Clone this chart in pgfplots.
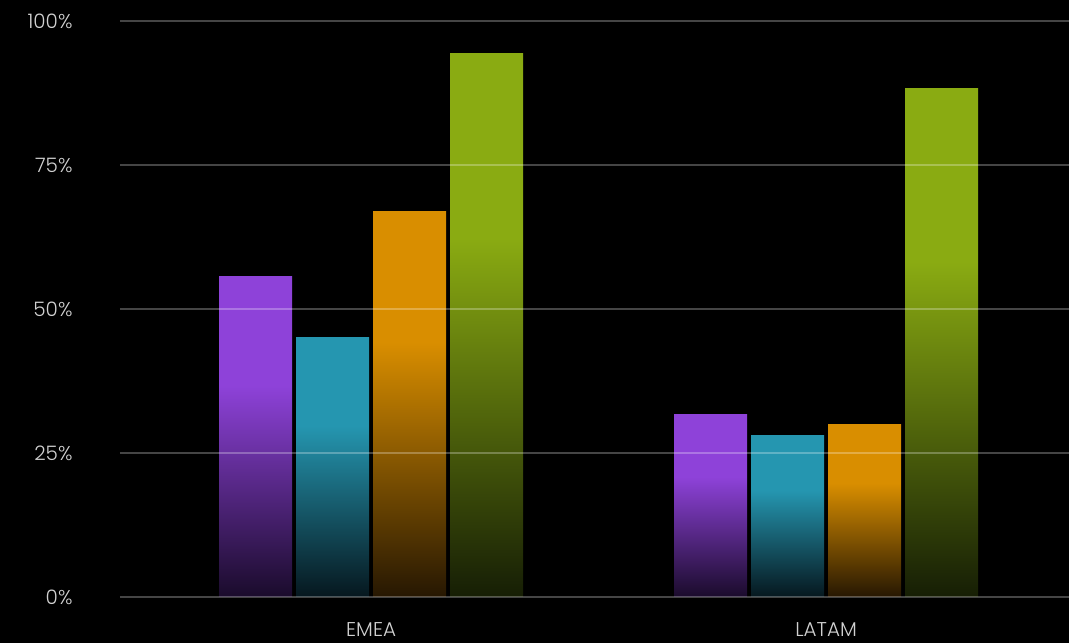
\documentclass[border=0pt]{standalone}
\usepackage{fontspec}
\setmainfont{Poppins}[UprightFont={* Light}]
\usepackage{pgfplots}
\pgfplotsset{compat=1.18}
\definecolor{cpurple}{HTML}{8E42D9}
\definecolor{cteal}{HTML}{2596B0}
\definecolor{corange}{HTML}{D98E00}
\definecolor{cgreen}{HTML}{8AAB12}
\definecolor{dpurple}{HTML}{1A0B2B}
\definecolor{dteal}{HTML}{06171E}
\definecolor{dorange}{HTML}{261702}
\definecolor{dgreen}{HTML}{161E05}
\pgfdeclareverticalshading{shpurple}{100bp}{color(0bp)=(dpurple); color(25bp)=(dpurple); color(58bp)=(cpurple); color(100bp)=(cpurple)}
\pgfdeclareverticalshading{shteal}{100bp}{color(0bp)=(dteal); color(25bp)=(dteal); color(58bp)=(cteal); color(100bp)=(cteal)}
\pgfdeclareverticalshading{shorange}{100bp}{color(0bp)=(dorange); color(25bp)=(dorange); color(58bp)=(corange); color(100bp)=(corange)}
\pgfdeclareverticalshading{shgreen}{100bp}{color(0bp)=(dgreen); color(25bp)=(dgreen); color(58bp)=(cgreen); color(100bp)=(cgreen)}
\begin{document}
\begin{tikzpicture}
\fill[black] (-120bp,-46bp) rectangle (949bp,597bp);
\useasboundingbox (-120bp,-46bp) rectangle (949bp,597bp);
\begin{axis}[
  at={(0,0)}, anchor=south west,
  scale only axis, width=949bp, height=576bp,
  xmin=-0.552, xmax=1.534, ymin=0, ymax=100,
  ybar, bar width=73bp,
  axis on top,
  axis line style={draw=none},
  xtick={0,1}, xticklabels={EMEA,LATAM},
  ytick={0,25,50,75,100},
  yticklabel={\pgfmathprintnumber{\tick}\%},
  /pgf/number format/assume math mode=true,
  tick style={draw=none},
  ymajorgrids, xmajorgrids=false,
  major grid style={white, opacity=0.27, line width=1.5bp},
  ticklabel style={font=\fontsize{20}{24}\selectfont, text=white!82!black},
  yticklabel style={xshift=-44bp},
  xticklabel style={yshift=-18bp},
]
% EMEA
\addplot[draw=none, shading=shpurple, bar shift=-115.5bp] coordinates {(0,55.7)};
\addplot[draw=none, shading=shteal, bar shift=-38.5bp] coordinates {(0,45.0)};
\addplot[draw=none, shading=shorange, bar shift=38.5bp] coordinates {(0,67.0)};
\addplot[draw=none, shading=shgreen, bar shift=115.5bp] coordinates {(0,94.4)};
% LATAM
\addplot[draw=none, shading=shpurple, bar shift=-115.5bp] coordinates {(1,31.6)};
\addplot[draw=none, shading=shteal, bar shift=-38.5bp] coordinates {(1,28.0)};
\addplot[draw=none, shading=shorange, bar shift=38.5bp] coordinates {(1,29.9)};
\addplot[draw=none, shading=shgreen, bar shift=115.5bp] coordinates {(1,88.2)};
\end{axis}
\end{tikzpicture}
\end{document}
